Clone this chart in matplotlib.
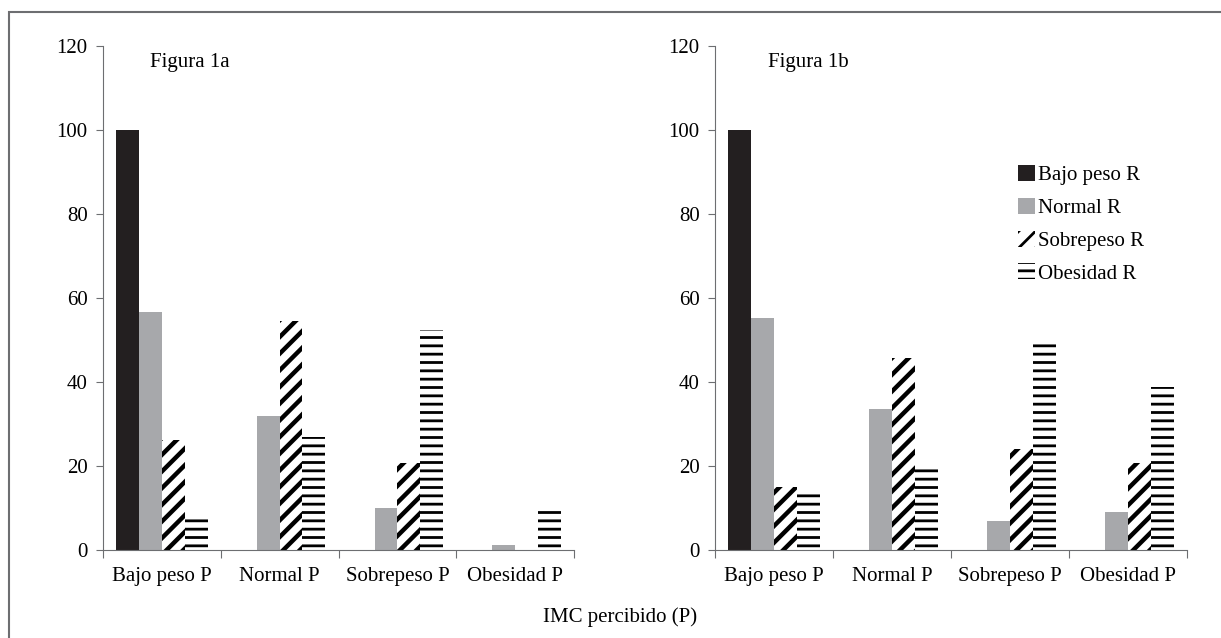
import matplotlib.pyplot as plt
from matplotlib.patches import Rectangle

plt.rcParams['font.family'] = ['Liberation Serif', 'DejaVu Serif']
plt.rcParams['hatch.linewidth'] = 2.0

# Datos
categorias = ['Bajo peso P', 'Normal P', 'Sobrepeso P', 'Obesidad P']
series = ['Bajo peso R', 'Normal R', 'Sobrepeso R', 'Obesidad R']

fig1a = [[100, 0, 0, 0],
         [56.7, 31.9, 10.1, 1.2],
         [26.2, 54.6, 20.8, 0],
         [8.2, 27.0, 52.5, 9.8]]
fig1b = [[100, 0, 0, 0],
         [55.2, 33.6, 7.0, 9.1],
         [14.9, 45.8, 24.0, 20.6],
         [13.3, 20.0, 49.2, 38.9]]

colores = ['#231f20', '#a7a8ab', 'white', 'white']
tramas = [None, None, '//', '--']
grosor_trama = [2.0, 2.0, 3.2, 2.0]
eje_color = '#6d6e71'
fs = 15

fig = plt.figure(figsize=(12.21, 6.38), dpi=100)

# marco exterior
fig.patches.append(Rectangle((9 / 1221, -0.1), 1.2, 1 - 12 / 638 + 0.1,
                             transform=fig.transFigure, fill=False,
                             edgecolor='#6d6e71', linewidth=1.5))

ax1 = fig.add_axes([103 / 1221, 88 / 638, 471 / 1221, 504 / 638])
ax2 = fig.add_axes([715 / 1221, 88 / 638, 472 / 1221, 504 / 638])

w = 0.194
for ax, datos, titulo, tx in [(ax1, fig1a, 'Figura 1a', 0.4), (ax2, fig1b, 'Figura 1b', 0.45)]:
    for j in range(4):
        pos = [i + 0.5 + (j - 1.5) * w for i in range(4)]
        with plt.rc_context({'hatch.linewidth': grosor_trama[j]}):
            ax.bar(pos, datos[j], width=w, color=colores[j], hatch=tramas[j],
                   edgecolor='black', linewidth=0, label=series[j])
    ax.set_xlim(0, 4)
    ax.set_ylim(0, 120)
    ax.set_yticks(range(0, 121, 20))
    ax.set_xticks(range(5))
    ax.set_xticklabels([])
    ax.set_xticks([i + 0.5 for i in range(4)], minor=True)
    ax.set_xticklabels(categorias, minor=True, fontsize=fs)
    ax.tick_params(axis='x', which='minor', length=0, pad=12)
    ax.tick_params(axis='x', which='major', length=6, color=eje_color, direction='out')
    ax.tick_params(axis='y', length=5, color=eje_color, labelsize=fs, pad=6)
    for s in ['top', 'right']:
        ax.spines[s].set_visible(False)
    for s in ['left', 'bottom']:
        ax.spines[s].set_color(eje_color)
    ax.text(tx, 116, titulo, fontsize=fs, va='center', ha='left')

leg = ax2.legend(loc='upper left', bbox_to_anchor=(0.624, 0.78), frameon=False,
                 fontsize=fs, handlelength=0.8, handleheight=0.8,
                 handletextpad=0.15, labelspacing=0.6, borderaxespad=0)

fig.text(620 / 1221, 1 - 617 / 638, 'IMC percibido (P)', fontsize=fs,
         ha='center', va='center')

fig.savefig('out.png', dpi=100)
